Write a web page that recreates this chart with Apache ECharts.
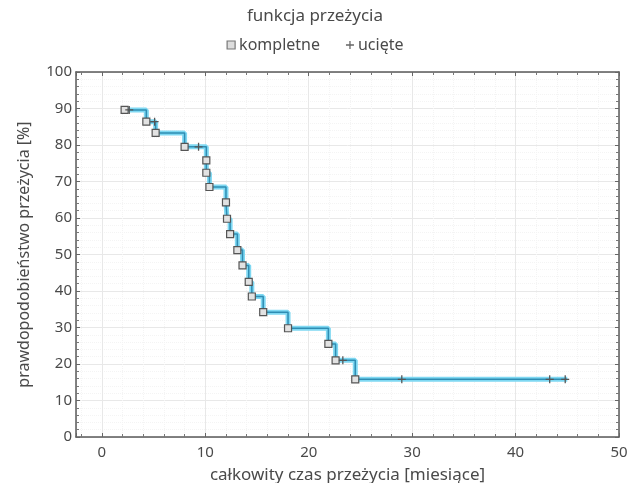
<!DOCTYPE html>
<html><head><meta charset="utf-8">
<script src="https://cdn.jsdelivr.net/npm/echarts@6/dist/echarts.min.js"></script>
<style>html,body{margin:0;padding:0;background:#fff}#c{width:630px;height:483px}</style>
</head><body><div id="c"></div>
<script>
const eventTimes = [2.2, 4.3, 5.2, 8.0, 10.1, 10.1, 10.4, 12.0, 12.1, 12.4, 13.1, 13.6, 14.2, 14.5, 15.6, 18.0, 21.9, 22.6, 24.5];
const eventSurv  = [89.6, 86.4, 83.3, 79.5, 75.8, 72.4, 68.5, 64.3, 59.8, 55.6, 51.2, 47.0, 42.5, 38.5, 34.2, 29.8, 25.5, 21.0, 15.8];
const censorTimes = [2.65, 5.1, 9.35, 23.3, 29.0, 43.3, 44.8];
const censorSurv  = [89.6, 86.4, 79.5, 21.0, 15.8, 15.8, 15.8];
const endTime = 45.0;
const endSurv = 15.8;
const xRange = [-2.5, 50];
const yRange = [0, 100];

const FONT = '"Noto Sans", "Open Sans", sans-serif';
const TXT = '#4a4a4a';
const plusPath = 'path://M0,4.2H10V5.8H0Z M4.2,0H5.8V10H4.2Z';

const curve = eventTimes.map((t, i) => [t, eventSurv[i]]).concat([[endTime, endSurv]]);
const events = eventTimes.map((t, i) => [t, eventSurv[i]]);
const censors = censorTimes.map((t, i) => [t, censorSurv[i]]);

const axisLineStyle = {color: '#5a5a5a', width: 1.5};
const chart = echarts.init(document.getElementById('c'));
chart.setOption({
  animation: false,
  title: {text: 'funkcja przeżycia', left: 'center', top: 3,
    textStyle: {fontFamily: FONT, fontSize: 17, fontWeight: 'normal', color: TXT}},
  legend: {top: 32, left: 'center', itemWidth: 8, itemHeight: 8, itemGap: 26,
    textStyle: {fontFamily: FONT, fontSize: 16, color: TXT, padding: [0,0,0,-1]},
    data: [
      {name: 'kompletne', icon: 'rect', itemStyle: {color: '#ddd', borderColor: '#777', borderWidth: 1.2}},
      {name: 'ucięte', icon: plusPath, itemStyle: {color: '#666'}}
    ]},
  grid: {left: 76, right: 11, top: 72, bottom: 46, outerBoundsMode: 'none', containLabel: false},
  xAxis: [{
    type: 'value', min: xRange[0], max: xRange[1], minInterval: 10, maxInterval: 10, splitNumber: 5,
    name: 'całkowity czas przeżycia [miesiące]', nameLocation: 'middle', nameGap: 30,
    nameTextStyle: {fontFamily: FONT, fontSize: 17, color: TXT},
    axisLine: {show: true, onZero: false, lineStyle: axisLineStyle},
    axisTick: {inside: true, length: 4, lineStyle: {color: '#666'}},
    minorTick: {show: true, splitNumber: 5, length: 3, lineStyle: {color: '#777'}},
    axisLabel: {showMinLabel: false, fontFamily: FONT, fontSize: 15, color: TXT, margin: 8},
    splitLine: {show: true, lineStyle: {color: '#e8e8e8', width: 1}},
    minorSplitLine: {show: true, lineStyle: {color: '#f4f4f4', type: 'dotted'}}
  }, {
    type: 'value', position: 'top', min: xRange[0], max: xRange[1], minInterval: 10, maxInterval: 10, splitNumber: 5,
    axisLine: {show: true, onZero: false, lineStyle: axisLineStyle},
    axisTick: {inside: true, length: 4, lineStyle: {color: '#666'}},
    minorTick: {show: true, splitNumber: 5, length: 3, lineStyle: {color: '#777'}},
    axisLabel: {show: false}, splitLine: {show: false}
  }],
  yAxis: [{
    type: 'value', min: yRange[0], max: yRange[1], interval: 10,
    name: 'prawdopodobieństwo przeżycia [%]', nameLocation: 'middle', nameGap: 44,
    nameTextStyle: {fontFamily: FONT, fontSize: 16, color: TXT},
    axisLine: {show: true, onZero: false, lineStyle: axisLineStyle},
    axisTick: {inside: true, length: 4, lineStyle: {color: '#666'}},
    minorTick: {show: true, splitNumber: 5, length: 3, lineStyle: {color: '#777'}},
    axisLabel: {fontFamily: FONT, fontSize: 15, color: TXT, margin: 4},
    splitLine: {show: true, lineStyle: {color: '#e8e8e8', width: 1}},
    minorSplitLine: {show: true, lineStyle: {color: '#f4f4f4', type: 'dotted'}}
  }, {
    type: 'value', position: 'right', min: yRange[0], max: yRange[1], interval: 10,
    axisLine: {show: true, onZero: false, lineStyle: axisLineStyle},
    axisTick: {inside: true, length: 4, lineStyle: {color: '#666'}},
    minorTick: {show: true, splitNumber: 5, length: 3, lineStyle: {color: '#777'}},
    axisLabel: {show: false}, splitLine: {show: false}
  }],
  series: [
    {type: 'line', name: 'glow', step: 'end', data: curve, symbol: 'none', silent: true,
      lineStyle: {color: '#7fd8f2', width: 5}, z: 2},
    {type: 'line', name: 'core', step: 'end', data: curve, symbol: 'none', silent: true,
      lineStyle: {color: '#2f8db3', width: 1.5}, z: 3},
    {type: 'scatter', name: 'kompletne', data: events, symbol: 'rect', symbolSize: 7,
      itemStyle: {color: '#e2e2e2', borderColor: '#555', borderWidth: 1.2, opacity: 1}, z: 5},
    {type: 'scatter', name: 'ucięte', data: censors, symbol: plusPath, symbolSize: 8,
      itemStyle: {color: '#555', opacity: 1}, z: 5}
  ]
});
</script></body></html>
